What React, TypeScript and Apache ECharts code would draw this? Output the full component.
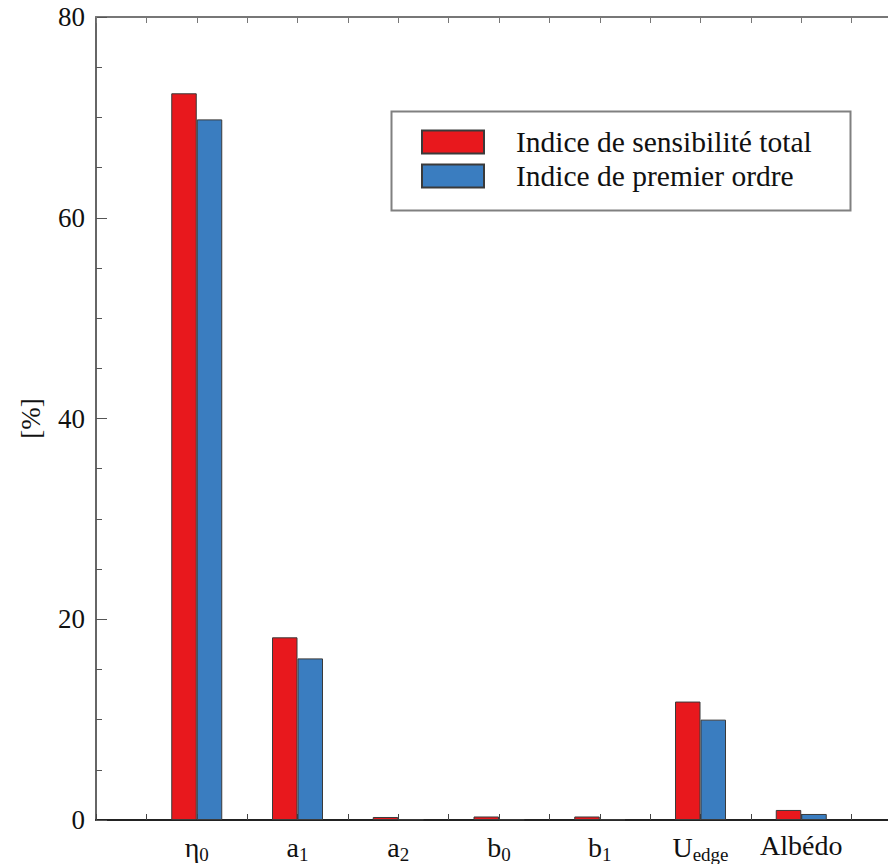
import React, { useEffect, useRef } from "react";
import * as echarts from "echarts";

const categories = ["{m|η}{s|0}", "{m|a}{s|1}", "{m|a}{s|2}", "{m|b}{s|0}", "{m|b}{s|1}", "{m|U}{s|edge}", "{m|Albédo}"];
const categoryPositions = [1, 2, 3, 4, 5, 6, 7];
const totalIndex = [72.4, 18.2, 0.3, 0.35, 0.35, 11.8, 1.0];
const firstOrderIndex = [69.8, 16.1, 0.05, 0.05, 0.05, 10.0, 0.6];
const seriesNames = ["Indice de sensibilité total", "Indice de premier ordre"];
const yTicks = { min: 0, max: 80, interval: 20 };

const FONT = "'Liberation Serif', 'Times New Roman', serif";

export default function App() {
  const ref = useRef<HTMLDivElement>(null);
  useEffect(() => {
    if (!ref.current) return;
    const chart = echarts.init(ref.current, undefined, { renderer: "svg" });
    const labelFor = (v: number) => {
      const r = Math.round(v);
      if (Math.abs(v - r) > 1e-6) return "";
      const i = categoryPositions.indexOf(r);
      return i >= 0 ? categories[i] : "";
    };
    chart.setOption({
      animation: false,
      backgroundColor: "#fff",
      grid: { left: 96, top: 17, right: 8, bottom: 43, containLabel: false },
      legend: {
        orient: "vertical",
        left: 421,
        top: 127,
        padding: 0,
        itemWidth: 62,
        itemHeight: 23,
        itemGap: 4,
        icon: "rect",
        textStyle: { fontFamily: FONT, fontSize: 29.5, color: "#111", lineHeight: 28, padding: [0, 0, 0, 27] },
        data: seriesNames,
      },
      graphic: [
        {
          type: "rect",
          left: 389,
          top: 109,
          shape: { width: 459, height: 99 },
          style: { fill: "none", stroke: "#808080", lineWidth: 2 },
          z: -1,
        },
      ],
      xAxis: [
        {
          type: "value",
          min: 0,
          max: 8,
          interval: 0.5,
          position: "bottom",
          axisLine: { show: true, lineStyle: { color: "#222", width: 2 } },
          axisTick: { show: true, inside: true, length: 6, lineStyle: { color: "#444", width: 1 } },
          axisLabel: {
            show: true,
            margin: 11,
            formatter: labelFor,
            color: "#111",
            fontFamily: FONT,
            rich: {
              m: { fontSize: 28, fontFamily: FONT, color: "#111" },
              s: { fontSize: 19, fontFamily: FONT, color: "#111", padding: [14, 0, 0, 0] },
            },
          },
          splitLine: { show: false },
        },
        {
          type: "value",
          min: 0,
          max: 8,
          interval: 0.5,
          position: "top",
          axisLine: { show: true, lineStyle: { color: "#777", width: 2 } },
          axisTick: { show: true, inside: true, length: 6, lineStyle: { color: "#777", width: 1 } },
          axisLabel: { show: false },
          splitLine: { show: false },
        },
      ],
      yAxis: {
        type: "value",
        min: yTicks.min,
        max: yTicks.max,
        interval: yTicks.interval,
        name: "[%]",
        nameLocation: "middle",
        nameGap: 52,
        nameTextStyle: { fontFamily: FONT, fontSize: 27, color: "#111" },
        axisLine: { show: true, lineStyle: { color: "#666", width: 2 } },
        axisTick: { show: true, inside: true, length: 11, lineStyle: { color: "#555", width: 1 } },
        minorTick: { show: true, splitNumber: 4, length: 6, lineStyle: { color: "#555", width: 1 } },
        axisLabel: { margin: 11, fontFamily: FONT, fontSize: 27, color: "#111" },
        splitLine: { show: false },
      },
      series: [
        {
          name: seriesNames[0],
          type: "bar",
          barWidth: 25.5,
          barGap: "0%",
          itemStyle: { color: "#E8181D", borderColor: "#3a3a3a", borderWidth: 1 },
          data: categoryPositions.map((p, i) => [p, totalIndex[i]]),
        },
        {
          name: seriesNames[1],
          type: "bar",
          barWidth: 25.5,
          barGap: "0%",
          itemStyle: { color: "#3A7DC0", borderColor: "#3a3a3a", borderWidth: 1 },
          data: categoryPositions.map((p, i) => [p, firstOrderIndex[i]]),
        },
      ],
    });
    return () => chart.dispose();
  }, []);
  return (
    <div style={{ position: "absolute", left: 0, top: 0, width: 888, height: 864, overflow: "hidden" }}>
      <div ref={ref} style={{ width: 910, height: 864 }} />
    </div>
  );
}
